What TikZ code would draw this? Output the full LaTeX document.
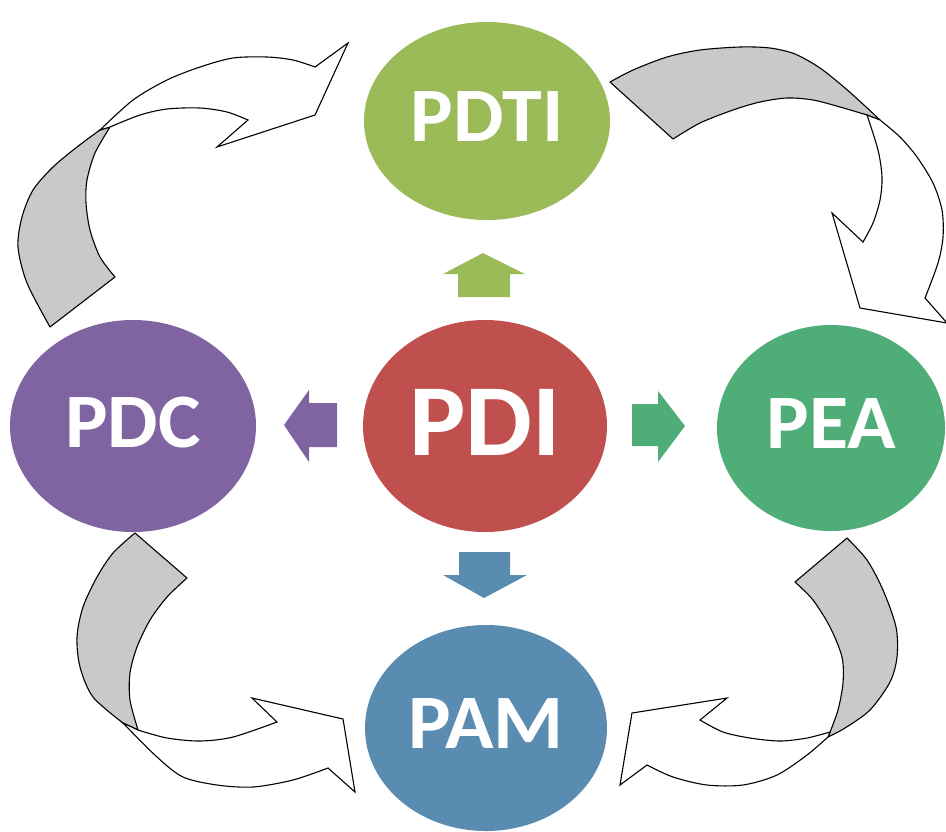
\documentclass[tikz,border=0pt]{standalone}
\usepackage{fontspec}
\setmainfont{Carlito}[FakeStretch=1.04]
\usetikzlibrary{shapes.geometric}
\definecolor{cPDTI}{HTML}{9BBB59}
\definecolor{cPDI}{HTML}{C0504D}
\definecolor{cPDC}{HTML}{8064A2}
\definecolor{cPEA}{HTML}{4FAD78}
\definecolor{cPAM}{HTML}{5A8BB0}
\definecolor{cband}{HTML}{C9C9C9}
\begin{document}
\begin{tikzpicture}[x=0.5pt,y=-0.5pt,
  bubble/.style={ellipse,inner sep=0pt,text=white,text depth=4pt,font=\bfseries\fontsize{38.5}{38.5}\selectfont},
  band/.style={draw=black,fill=cband,line width=0.55pt,line join=round},
  curvearrow/.style={draw=black,fill=white,line width=0.55pt,line join=miter}]
\useasboundingbox (0,0) rectangle (946,831);

% top-left curved arrow (PDC -> PDTI)
\path[band] plot[smooth] coordinates {(50,327)(27,283)(18,247)(22,217)(33,190)(53,167)(77,147)(100,130)}
  -- plot[smooth] coordinates {(110,127)(95,153)(87,180)(86,203)(90,230)(100,257)(115,277)} -- cycle;
\path[curvearrow] plot[smooth] coordinates {(100,130)(133,100)(167,80)(200,67)(233,58)(267,57)(293,60)(315,67)}
  -- (348,43) -- (315,115) -- (217,147) -- (248,120)
  -- plot[smooth] coordinates {(248,120)(227,112)(200,108)(167,109)(140,115)(110,127)} -- cycle;

% top-right curved arrow (PDTI -> PEA)
\path[band] (673,139) -- (610,82)
  -- plot[smooth] coordinates {(610,82)(633,70)(667,57)(700,50)(740,47)(770,48)(795,54)(820,68)(845,88)(865,106)(880,120)}
  -- plot[smooth] coordinates {(867,115)(840,107)(813,100)(787,98)(760,102)(733,110)(700,123)(673,139)} -- cycle;
\path[curvearrow] plot[smooth] coordinates {(880,120)(900,137)(917,157)(933,183)(942,210)(943,237)(938,263)(925,298)}
  -- (947,323) -- (860,308) -- (832,213) -- (863,242)
  -- plot[smooth] coordinates {(863,242)(873,223)(880,200)(882,177)(878,150)(867,115)} -- cycle;

% bottom-left curved arrow (PDC -> PAM)
\path[band] plot[smooth] coordinates {(135,533)(113,553)(97,577)(83,607)(77,637)(80,667)(93,697)(123,723)}
  -- plot[smooth] coordinates {(138,730)(130,700)(130,673)(137,647)(150,620)(167,597)(187,578)} -- cycle;
\path[curvearrow] plot[smooth] coordinates {(138,730)(167,738)(200,741)(233,737)(277,722)}
  -- (252,698) -- (343,719) -- (355,792) -- (328,768)
  -- plot[smooth] coordinates {(328,768)(293,780)(253,787)(217,785)(183,777)(157,757)(123,723)} -- cycle;

% bottom-right curved arrow (PEA -> PAM)
\path[band] plot[smooth] coordinates {(847,538)(867,560)(883,590)(896,627)(897,657)(890,682)(870,710)(845,728)(828,737)}
  -- plot[smooth] coordinates {(830,732)(838,710)(843,683)(842,657)(830,627)(813,600)(795,582)} -- cycle;
\path[curvearrow] plot[smooth] coordinates {(830,732)(807,738)(780,741)(750,738)(723,732)(700,720)}
  -- (727,698) -- (632,713) -- (620,785) -- (647,765)
  -- plot[smooth] coordinates {(647,765)(673,777)(707,785)(743,785)(777,775)(807,755)(828,737)} -- cycle;

% small block arrows
\fill[cPDTI] (458,297) -- (458,274) -- (443,274) -- (483,253) -- (525,274) -- (510,274) -- (510,297) -- cycle;
\fill[cPDC] (337,403) -- (309,403) -- (309,390) -- (284,425) -- (309,462) -- (309,447) -- (337,447) -- cycle;
\fill[cPEA] (632,404) -- (658,404) -- (658,391) -- (685,426) -- (658,462) -- (658,446) -- (632,446) -- cycle;
\fill[cPAM] (459,552) -- (510,552) -- (510,575) -- (527,575) -- (484,598) -- (443,575) -- (459,575) -- cycle;

% bubbles
\node[bubble,fill=cPDTI,minimum width=123pt,minimum height=99pt] (pdti) at (487,121) {PDTI};
\node[bubble,fill=cPDI,minimum width=122pt,minimum height=106pt,font=\bfseries\fontsize{51}{51}\selectfont] (pdi) at (485,426) {PDI};
\node[bubble,fill=cPDC,minimum width=123pt,minimum height=106pt] (pdc) at (133,426) {PDC};
\node[bubble,fill=cPEA,minimum width=114pt,minimum height=103pt] (pea) at (831,428) {PEA};
\node[bubble,fill=cPAM,minimum width=121pt,minimum height=103pt] (pam) at (486,728) {PAM};
\end{tikzpicture}
\end{document}
